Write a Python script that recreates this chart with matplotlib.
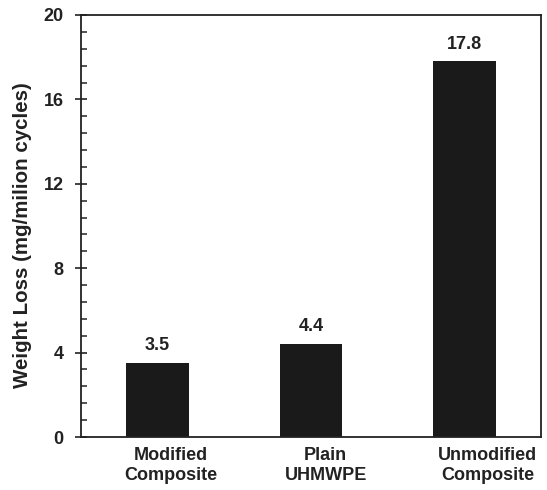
import matplotlib.pyplot as plt
from matplotlib.ticker import MultipleLocator

categories = ['Modified\nComposite', 'Plain\nUHMWPE', 'Unmodified\nComposite']
weight_loss = [3.5, 4.4, 17.8]
value_labels = ['3.5', '4.4', '17.8']
# category labels sit slightly right of bar centers in the original
label_shift = [0.085, 0.095, 0.15]

plt.rcParams['font.family'] = ['Liberation Sans', 'DejaVu Sans']
plt.rcParams['font.weight'] = 'bold'

fig = plt.figure(figsize=(5.47, 4.9), dpi=100)
ax = fig.add_axes([81 / 547, 1 - 437 / 490, 460 / 547, 422 / 490])

x = list(range(len(categories)))
ax.bar(x, weight_loss, width=0.41, color='#1a1a1a')
for xi, v, lab in zip(x, weight_loss, value_labels):
    ax.text(xi, v + 0.42, lab, ha='center', va='bottom', fontsize=13, fontweight='bold',
            color='#222222')

ax.set_xlim(-0.5, 2.5)
ax.set_ylim(0, 20)
ax.set_xticks([xi + s for xi, s in zip(x, label_shift)])
ax.set_xticklabels(categories, fontsize=13, fontweight='bold', linespacing=1.25, color='#222222')
ax.tick_params(axis='x', length=0, pad=7)
ax.yaxis.set_major_locator(MultipleLocator(4))
ax.yaxis.set_minor_locator(MultipleLocator(0.8))
ax.tick_params(axis='y', which='major', direction='inout', length=9, width=1.2,
               labelsize=13, pad=8, colors='#222222')
ax.tick_params(axis='y', which='minor', direction='in', length=4.3, width=1.1, colors='#222222')
for lab in ax.get_yticklabels():
    lab.set_fontweight('bold')
ax.set_ylabel('Weight Loss (mg/milion cycles)', fontsize=14.8, fontweight='bold',
              color='#222222')
ax.yaxis.set_label_coords(-0.107, 0.479)
for s in ax.spines.values():
    s.set_linewidth(1.3)
    s.set_color('#222222')

fig.savefig('out.png', dpi=100)
